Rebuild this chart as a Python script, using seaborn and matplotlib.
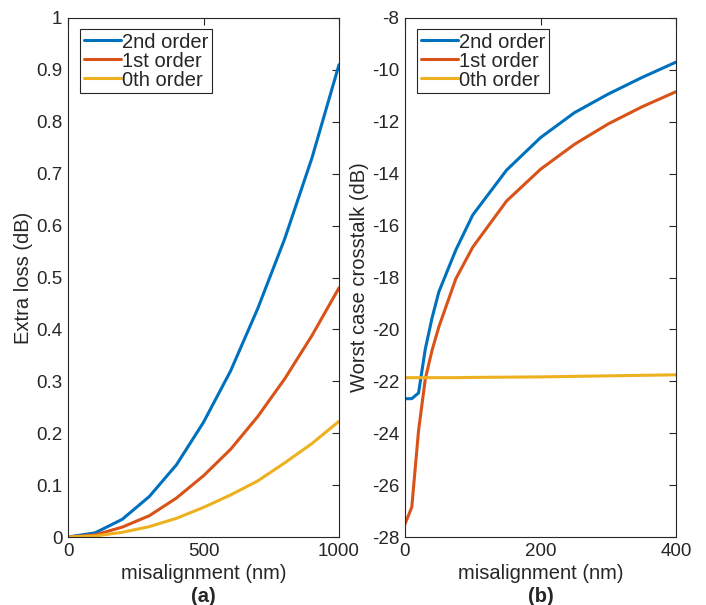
import matplotlib
matplotlib.use("Agg")
import matplotlib.pyplot as plt
import seaborn as sns
import pandas as pd

# ---- data ----
series_names = ["2nd order", "1st order", "0th order"]
colors = ["#0072BD", "#D95319", "#EDB120"]

x_a = [0, 100, 200, 300, 400, 500, 600, 700, 800, 900, 1000]
loss_2nd = [0.0, 0.008, 0.034, 0.078, 0.139, 0.221, 0.320, 0.440, 0.575, 0.730, 0.910]
loss_1st = [0.0, 0.004, 0.019, 0.041, 0.075, 0.118, 0.169, 0.232, 0.305, 0.388, 0.480]
loss_0th = [0.0, 0.002, 0.009, 0.020, 0.036, 0.057, 0.081, 0.108, 0.143, 0.180, 0.223]

x_b = [0, 10, 20, 30, 40, 50, 75, 100, 150, 200, 250, 300, 350, 400]
xt_2nd = [-22.67, -22.67, -22.45, -20.75, -19.55, -18.55, -16.94, -15.59, -13.86,
          -12.61, -11.65, -10.93, -10.29, -9.70]
xt_1st = [-27.5, -26.85, -23.9, -21.9, -20.8, -19.9, -18.05, -16.83, -15.05,
          -13.83, -12.87, -12.08, -11.42, -10.84]
xt_0th = [-21.86, -21.86, -21.86, -21.86, -21.86, -21.86, -21.86, -21.85, -21.84,
          -21.83, -21.81, -21.79, -21.77, -21.75]

xticks_a = [0, 500, 1000]
yticks_a = [0, 0.1, 0.2, 0.3, 0.4, 0.5, 0.6, 0.7, 0.8, 0.9, 1]
xticks_b = [0, 200, 400]
yticks_b = [-28, -26, -24, -22, -20, -18, -16, -14, -12, -10, -8]

df_a = pd.DataFrame({
    "x": x_a * 3,
    "y": loss_2nd + loss_1st + loss_0th,
    "series": [series_names[0]] * len(x_a) + [series_names[1]] * len(x_a) + [series_names[2]] * len(x_a),
})
df_b = pd.DataFrame({
    "x": x_b * 3,
    "y": xt_2nd + xt_1st + xt_0th,
    "series": [series_names[0]] * len(x_b) + [series_names[1]] * len(x_b) + [series_names[2]] * len(x_b),
})

sns.set_style("white")
plt.rcParams["font.family"] = ["Liberation Sans", "DejaVu Sans"]
axcol = "#262626"

fig = plt.figure(figsize=(7.06, 6.05), dpi=100)
ax1 = fig.add_axes([68 / 706, 1 - 537 / 605, 271 / 706, 519 / 605])
ax2 = fig.add_axes([405 / 706, 1 - 537 / 605, 271 / 706, 519 / 605])

palette = dict(zip(series_names, colors))
for ax, df, xt, yt, xl, yl, sub in [
    (ax1, df_a, xticks_a, yticks_a, (0, 1000), (0, 1), "(a)"),
    (ax2, df_b, xticks_b, yticks_b, (0, 400), (-28, -8), "(b)"),
]:
    sns.lineplot(data=df, x="x", y="y", hue="series", hue_order=series_names,
                 palette=palette, linewidth=2.2, ax=ax, legend=True)
    ax.set_xlim(*xl)
    ax.set_ylim(*yl)
    ax.set_xticks(xt)
    ax.set_yticks(yt)
    ax.set_yticklabels([("%g" % v) for v in yt])
    ax.tick_params(direction="in", length=5, width=0.8, color=axcol, labelcolor=axcol,
                   labelsize=13.5, top=True, right=True)
    ax.tick_params(axis="x", pad=4.5)
    ax.tick_params(axis="y", pad=4)
    for s in ax.spines.values():
        s.set_color(axcol)
        s.set_linewidth(0.8)
        s.set_visible(True)
    ax.set_xlabel("misalignment (nm)", fontsize=14.5, color=axcol, labelpad=2.5)
    ax.text(0.5, -(596 - 537) / 519, sub, transform=ax.transAxes, ha="center", va="center",
            fontsize=14.5, fontweight="bold", color=axcol)
    leg = ax.legend(loc="upper left", bbox_to_anchor=(0.044, 0.979), fontsize=14.5,
                    frameon=True, fancybox=False, framealpha=1, edgecolor=axcol,
                    handlelength=1.85, handletextpad=0.05, labelspacing=0.0,
                    borderpad=0.18, borderaxespad=0)
    leg.get_frame().set_linewidth(0.8)

ax1.set_ylabel("Extra loss (dB)", fontsize=14.5, color=axcol, labelpad=2.5)
ax2.set_ylabel("Worst case crosstalk (dB)", fontsize=14.5, color=axcol, labelpad=2.5)

fig.savefig("out.png", dpi=100)
